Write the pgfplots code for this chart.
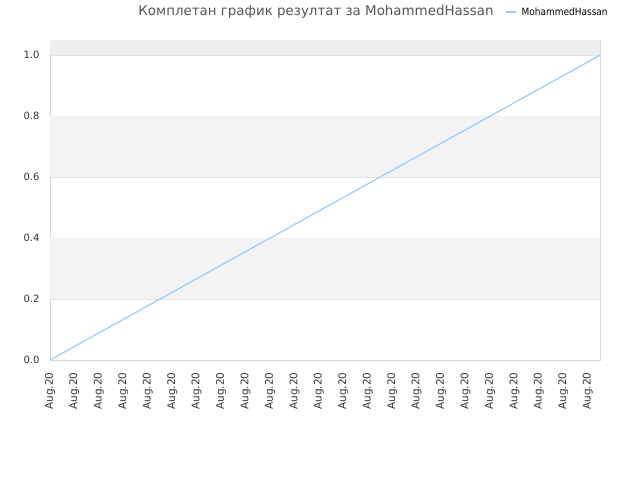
\documentclass[border=0pt]{standalone}
\usepackage{pgfplots}
\pgfplotsset{compat=1.18}
\usepackage{fontspec}
\setmainfont{DejaVu Sans}
\newfontfamily\condfont{DejaVu Sans Condensed}
\definecolor{bandgray}{HTML}{F3F3F3}
\definecolor{topgray}{HTML}{EEEEEE}
\definecolor{gridc}{HTML}{E2E2E2}
\definecolor{borderc}{HTML}{D8D8D8}
\definecolor{linec}{HTML}{99CCFF}
\definecolor{titlec}{HTML}{555555}
\definecolor{tickc}{HTML}{333333}
\begin{document}
\begin{tikzpicture}[x=1pt,y=1pt]
\useasboundingbox (0,0) rectangle (640,480);
\begin{axis}[
  at={(50pt,120pt)}, anchor=south west,
  scale only axis, width=550pt, height=320pt,
  xmin=0, xmax=22.5, ymin=0, ymax=1.05,
  xtick={0,1,...,22},
  xticklabels={Aug.20,Aug.20,Aug.20,Aug.20,Aug.20,Aug.20,Aug.20,Aug.20,Aug.20,Aug.20,Aug.20,Aug.20,Aug.20,Aug.20,Aug.20,Aug.20,Aug.20,Aug.20,Aug.20,Aug.20,Aug.20,Aug.20,Aug.20},
  xticklabel style={rotate=90, anchor=east, font=\fontsize{10.5}{12}\selectfont, text=tickc, yshift=-0pt, xshift=0pt},
  xticklabel shift=9pt,
  ytick={0,0.2,0.4,0.6,0.8,1.0},
  yticklabel style={font=\fontsize{10}{12}\selectfont, text=tickc},
  yticklabel shift=7pt,
  /pgf/number format/assume math mode=true,
  /pgf/number format/fixed, /pgf/number format/fixed zerofill, /pgf/number format/precision=1,
  axis line style={borderc},
  major tick length=0pt,
  ymajorgrids, major grid style={gridc, line width=0.8pt},
  axis on top=false,
  legend style={at={(rel axis cs:0.827,1.087)}, anchor=west, draw=none, fill=none,
    font=\condfont\fontsize{10}{12}\selectfont, inner sep=0pt},
  legend cell align=left,
  legend image code/.code={\draw[#1, line width=1.5pt] (0pt,0pt) -- (10pt,0pt);},
]
\fill[topgray] (axis cs:0,1.0) rectangle (axis cs:22.5,1.05);
\fill[bandgray] (axis cs:0,0.8) rectangle (axis cs:22.5,0.6);
\fill[bandgray] (axis cs:0,0.4) rectangle (axis cs:22.5,0.2);
\addplot[linec, line width=1.2pt] coordinates {(0,0) (22.5,1.0)};
\addlegendentry{\hspace*{3pt}MohammedHassan}
\end{axis}
\node[anchor=base east, text=titlec, font=\fontsize{13.4}{15}\selectfont] at (497,464) {Комплетан график резултат за MohammedHassan};
\end{tikzpicture}
\end{document}
